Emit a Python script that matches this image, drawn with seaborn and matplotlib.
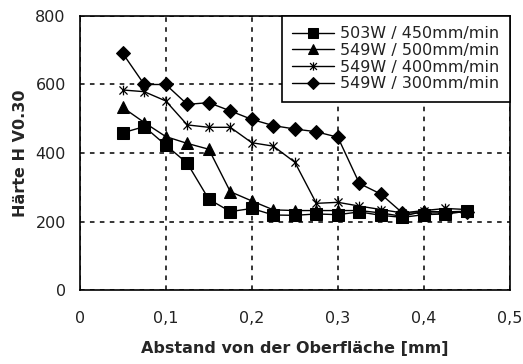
import numpy as np
import pandas as pd
import matplotlib
matplotlib.use("Agg")
import matplotlib.pyplot as plt
from matplotlib.path import Path
import seaborn as sns

# ---- data ----
x_mm = [0.05, 0.075, 0.1, 0.125, 0.15, 0.175, 0.2, 0.225, 0.25, 0.275,
        0.3, 0.325, 0.35, 0.375, 0.4, 0.425, 0.45]
s503_450 = [459, 477, 423, 370, 265, 229, 238, 219, 218, 222,
            220, 228, 218, 212, 220, 222, 230]
s549_500 = [533, 489, 448, 428, 411, 287, 260, 234, 232, 232,
            232, 232, 225, 215, 230, 228, 230]
s549_400 = [584, 579, 552, 482, 475, 475, 430, 420, 373, 253,
            256, 245, 235, 225, 232, 238, 235]
s549_300 = [691, 600, 600, 542, 547, 523, 498, 480, 470, 462,
            446, 311, 280, 225, 225, 225, 228]
labels = ["503W / 450mm/min", "549W / 500mm/min", "549W / 400mm/min", "549W / 300mm/min"]
x_ticks = [0, 0.1, 0.2, 0.3, 0.4, 0.5]
x_ticklabels = ["0", "0,1", "0,2", "0,3", "0,4", "0,5"]
y_ticks = [0, 200, 400, 600, 800]

sns.set_style("white")
plt.rcParams['font.family'] = ['DejaVu Sans']

fig = plt.figure(figsize=(5.23, 3.64), dpi=100)
ax = fig.add_axes([79.7 / 523, 1 - 290 / 364, (510 - 79.7) / 523, (290 - 16) / 364])

star = Path([(-1, -1), (1, 1), (-1, 1), (1, -1), (0, -1.2), (0, 1.2)],
            [Path.MOVETO, Path.LINETO, Path.MOVETO, Path.LINETO, Path.MOVETO, Path.LINETO])

series = [s503_450, s549_500, s549_400, s549_300]
markers = ['s', '^', star, 'D']
msizes = [8.5, 8.5, 7, 7]
for vals, lab, mk, ms in zip(series, labels, markers, msizes):
    df = pd.DataFrame({"x": x_mm, "y": vals})
    if mk is star:
        sns.lineplot(data=df, x="x", y="y", ax=ax, color='black', lw=1,
                     marker=mk, markersize=ms, markerfacecolor='none',
                     markeredgecolor='black', markeredgewidth=0.9, label=lab)
    else:
        sns.lineplot(data=df, x="x", y="y", ax=ax, color='black', lw=1,
                     marker=mk, markersize=ms, markerfacecolor='black',
                     markeredgecolor='black', label=lab)

ax.set_xlim(0, 0.5)
ax.set_ylim(0, 800)
ax.set_xticks(x_ticks)
ax.set_xticklabels(x_ticklabels)
ax.set_yticks(y_ticks)
ax.grid(True, color='black', linestyle=(0, (3, 3.5)), linewidth=1.1)
for sp in ax.spines.values():
    sp.set_color('black')
    sp.set_linewidth(1.2)
ax.tick_params(axis='x', direction='inout', length=8, width=1.2, labelsize=11.5, pad=11, colors='black')
ax.tick_params(axis='y', direction='out', length=7, width=1.2, labelsize=11.5, pad=3, colors='black')
for t in ax.get_xticklabels() + ax.get_yticklabels():
    t.set_color('#222222')

ax.set_xlabel("Abstand von der Oberfläche [mm]", fontsize=11.5, fontweight='bold')
ax.set_ylabel("Härte H V0.30", fontsize=11.5, fontweight='bold')
ax.yaxis.set_label_coords(-0.12, 0.5)
ax.xaxis.set_label_coords(0.5, -0.185)

leg = ax.legend(loc='upper right', borderaxespad=0, fancybox=False, frameon=True,
                edgecolor='black', fontsize=11.5, labelspacing=0.1, handlelength=2.6,
                handletextpad=0.4, borderpad=0.65, framealpha=1, markerscale=0.85)
leg.get_frame().set_linewidth(1.2)
for t in leg.get_texts():
    t.set_color('#222222')

fig.savefig("out.png", dpi=100)
